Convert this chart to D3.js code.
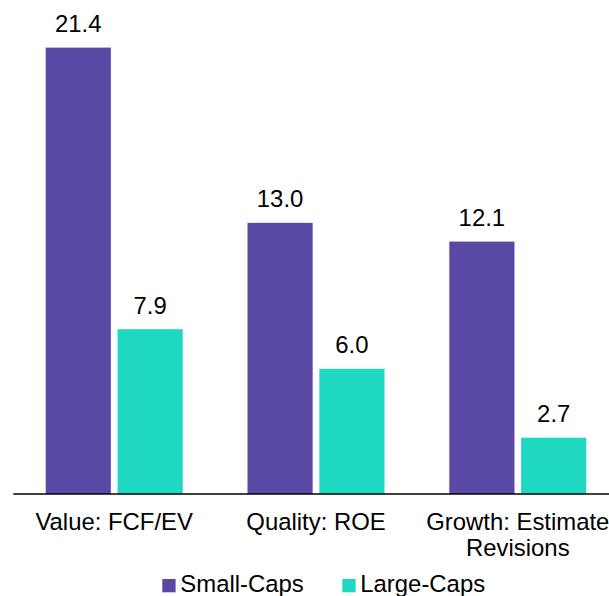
<!DOCTYPE html>
<html>
<head>
<meta charset="utf-8">
<script src="https://cdnjs.cloudflare.com/ajax/libs/d3/7.8.5/d3.min.js"></script>
<style>
  body { margin: 0; background: #fff; }
  svg text { font-family: "Liberation Sans", Arial, sans-serif; fill: #000; }
</style>
</head>
<body>
<div id="chart"></div>
<script>
// chart data
const categories = [["Value: FCF/EV"], ["Quality: ROE"], ["Growth: Estimate", "Revisions"]];
const seriesNames = ["Small-Caps", "Large-Caps"];
const smallCaps = [21.4, 13.0, 12.1];
const largeCaps = [7.9, 6.0, 2.7];

const colors = {"Small-Caps": "#5a49a4", "Large-Caps": "#1fd8c2"};

const width = 609, height = 596;
const fontSize = 23.9;

let svg = d3.select("#chart").append("svg")
    .attr("width", width)
    .attr("height", height);

let catKeys = categories.map(c => c.join(" "));

// outer band per category, runs past the right edge (clipped like the original)
let x0 = d3.scaleBand()
    .domain(catKeys)
    .range([13.3, 618.7]);

let x1 = d3.scaleBand()
    .domain(seriesNames)
    .range([32.4, x0.bandwidth() - 32.4])
    .paddingInner(0.093);

let y = d3.scaleLinear()
    .domain([0, 24])
    .range([494, 494 - 24 * 20.86]);

let rows = catKeys.map((k, i) => ({
    key: k,
    values: [
        {name: "Small-Caps", value: smallCaps[i]},
        {name: "Large-Caps", value: largeCaps[i]}
    ]
}));

let groups = svg.append("g").selectAll("g")
    .data(rows)
    .enter().append("g")
    .attr("transform", d => "translate(" + x0(d.key) + ",0)");

groups.selectAll("rect")
    .data(d => d.values)
    .enter().append("rect")
    .attr("x", d => x1(d.name))
    .attr("y", d => y(d.value))
    .attr("width", x1.bandwidth())
    .attr("height", d => y(0) - y(d.value))
    .attr("fill", d => colors[d.name]);

// value labels above bars
groups.selectAll("text.val")
    .data(d => d.values)
    .enter().append("text")
    .attr("class", "val")
    .attr("x", d => x1(d.name) + x1.bandwidth() / 2)
    .attr("y", d => y(d.value) - 15.5)
    .attr("text-anchor", "middle")
    .style("font-size", fontSize + "px")
    .text(d => d.value.toFixed(1));

// baseline
svg.append("line")
    .attr("x1", x0.range()[0])
    .attr("x2", width)
    .attr("y1", y(0))
    .attr("y2", y(0))
    .attr("stroke", "#000")
    .attr("stroke-width", 1.3);

// category labels (may wrap to two lines)
let catLabels = svg.append("g").selectAll("text")
    .data(categories)
    .enter().append("text")
    .attr("text-anchor", "middle")
    .style("font-size", fontSize + "px")
    .attr("transform", (d, i) => "translate(" + (x0(catKeys[i]) + x0.bandwidth() / 2) + ",530)");

catLabels.selectAll("tspan")
    .data(d => d)
    .enter().append("tspan")
    .attr("x", 0)
    .attr("y", (d, i) => i * 26)
    .text(d => d);

// legend
let legendX = [162.3, 342.3];
let legend = svg.append("g").selectAll("g")
    .data(seriesNames)
    .enter().append("g")
    .attr("transform", (d, i) => "translate(" + legendX[i] + ",579)");

legend.append("rect")
    .attr("width", 13.3)
    .attr("height", 13.3)
    .attr("fill", d => colors[d]);

legend.append("text")
    .attr("x", 18)
    .attr("y", 13.3)
    .style("font-size", fontSize + "px")
    .text(d => d);
</script>
</body>
</html>
